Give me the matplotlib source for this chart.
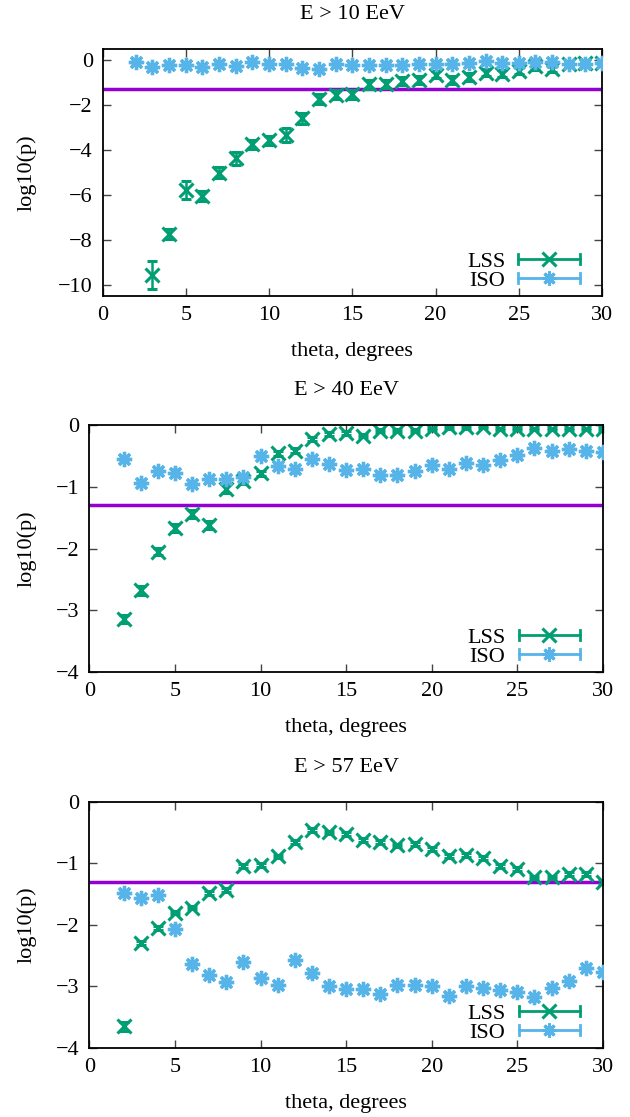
import numpy as np
import matplotlib
matplotlib.use("Agg")
import matplotlib.pyplot as plt
from matplotlib.lines import Line2D
from matplotlib.legend_handler import HandlerBase

plt.rcParams['font.family'] = ['Liberation Serif', 'DejaVu Serif']
plt.rcParams['font.size'] = 16

# data (log10 of p-values vs theta)
theta = list(range(2, 31))

titles = ["E > 10 EeV", "E > 40 EeV", "E > 57 EeV"]

# E > 10 EeV  (LSS has no point at theta=2)
lss10_theta = list(range(3, 31))
lss10 = [-9.56, -7.73, -5.78, -6.03, -5.00, -4.37, -3.75, -3.56, -3.33, -2.59,
         -1.73, -1.53, -1.52, -1.07, -1.04, -0.93, -0.89, -0.64, -0.86, -0.74,
         -0.55, -0.59, -0.47, -0.27, -0.37, -0.17, -0.14, -0.12]
lss10_err = [0.62, 0.22, 0.42, 0.22, 0.25, 0.28, 0.2, 0.2, 0.32, 0.25,
             0.22, 0.2, 0.2, 0.2, 0.18, 0.18, 0.18, 0.15, 0.18, 0.18,
             0.15, 0.15, 0.15, 0.15, 0.15, 0.1, 0.1, 0.1]
iso10 = [-0.07, -0.30, -0.22, -0.22, -0.30, -0.18, -0.25, -0.07, -0.15, -0.18,
         -0.33, -0.37, -0.15, -0.23, -0.22, -0.19, -0.22, -0.15, -0.18, -0.18,
         -0.12, -0.03, -0.12, -0.12, -0.07, -0.07, -0.15, -0.15, -0.12]
iso10_err = [0.12] * 29

# E > 40 EeV
lss40 = [-3.14, -2.68, -2.05, -1.67, -1.44, -1.62, -1.03, -0.90, -0.78, -0.46,
         -0.42, -0.23, -0.15, -0.13, -0.17, -0.09, -0.09, -0.09, -0.065, -0.04,
         -0.04, -0.03, -0.065, -0.065, -0.065, -0.065, -0.065, -0.065, -0.07]
lss40_err = [0.07, 0.07, 0.06, 0.07, 0.07, 0.07, 0.07, 0.05, 0.04, 0.04,
             0.04, 0.03, 0.03, 0.03, 0.03, 0.02, 0.02, 0.02, 0.02, 0.02,
             0.02, 0.02, 0.02, 0.02, 0.02, 0.02, 0.02, 0.02, 0.02]
iso40 = [-0.55, -0.94, -0.75, -0.77, -0.95, -0.87, -0.87, -0.84, -0.50, -0.66,
         -0.72, -0.55, -0.63, -0.73, -0.72, -0.81, -0.81, -0.75, -0.64, -0.71,
         -0.61, -0.64, -0.57, -0.48, -0.38, -0.42, -0.39, -0.42, -0.43]
iso40_err = [0.05] * 29

# E > 57 EeV
lss57 = [-3.65, -2.29, -2.05, -1.80, -1.72, -1.48, -1.43, -1.04, -1.03, -0.89,
         -0.65, -0.46, -0.50, -0.52, -0.62, -0.66, -0.71, -0.69, -0.77, -0.88,
         -0.87, -0.91, -1.04, -1.09, -1.23, -1.23, -1.18, -1.18, -1.30]
lss57_err = [0.07, 0.03, 0.03, 0.03, 0.03, 0.03, 0.03, 0.03, 0.03, 0.03,
             0.03, 0.03, 0.03, 0.03, 0.03, 0.03, 0.03, 0.03, 0.03, 0.03,
             0.03, 0.03, 0.03, 0.03, 0.03, 0.03, 0.03, 0.03, 0.03]
iso57 = [-1.49, -1.56, -1.51, -2.06, -2.63, -2.81, -2.93, -2.61, -2.87, -2.98,
         -2.57, -2.79, -3.00, -3.04, -3.04, -3.13, -2.98, -2.97, -2.99, -3.15,
         -2.99, -3.02, -3.06, -3.09, -3.18, -3.03, -2.92, -2.70, -2.77]
iso57_err = [0.05] * 29

threshold = np.log10(0.05)

green = '#009e73'
blue = '#56b4e9'
purple = '#9400d3'


class GnuplotErrHandler(HandlerBase):
    # legend sample like gnuplot: horizontal bar with end caps and marker in the middle
    def __init__(self, color, marker):
        super().__init__()
        self.color = color
        self.marker = marker

    def create_artists(self, legend, orig_handle, xdescent, ydescent, width, height, fontsize, trans):
        y = height / 2 - ydescent
        x0, x1 = -xdescent, width - xdescent
        h = 3.5
        arts = [Line2D([x0, x1], [y, y], color=self.color, lw=2),
                Line2D([x0, x0], [y - h, y + h], color=self.color, lw=2),
                Line2D([x1, x1], [y - h, y + h], color=self.color, lw=2),
                Line2D([(x0 + x1) / 2], [y], color=self.color, marker=self.marker,
                       ms=10, mew=2.2, ls='none')]
        for a in arts:
            a.set_transform(trans)
        return arts


def panel(ax, title, lx, ly, lerr, iy, ierr, ylim, yticks, ylab_x):
    ax.axhline(threshold, color=purple, lw=2.5, zorder=1)
    ax.errorbar(lx, ly, yerr=lerr, fmt='x', color=green, ms=10, mew=2.2,
                elinewidth=1.8, capsize=3.5, capthick=1.8, zorder=2)
    ax.errorbar(theta, iy, yerr=ierr, fmt='none', color=blue,
                elinewidth=1.8, capsize=3.5, capthick=1.8, zorder=3)
    ax.plot(theta, iy, ls='none', marker=(8, 2, 0), color=blue, ms=11, mew=2.4, zorder=3)

    ax.set_xlim(0, 30)
    ax.set_ylim(*ylim)
    ax.set_xticks(np.arange(0, 31, 5))
    ax.set_yticks(yticks)
    ax.tick_params(direction='in', length=6, width=1, color='#444444',
                   top=True, right=True, pad=7, labelsize=16)
    for s in ax.spines.values():
        s.set_linewidth(1.3)

    ax.set_xlabel("theta, degrees", fontsize=16)
    ax.set_ylabel("log10(p)", fontsize=16)
    ax.xaxis.set_label_coords(0.5, -0.225)
    ax.xaxis.label.set_va('center')
    ax.yaxis.set_label_coords(ylab_x, 0.5)
    ax.yaxis.label.set_va('center')
    ax.text(0.5, 1.138, title, transform=ax.transAxes, ha='center', va='center', fontsize=16)

    h1 = Line2D([], [], color=green)
    h2 = Line2D([], [], color=blue)
    ax.legend([h1, h2], ["LSS", "ISO"], loc='lower right', bbox_to_anchor=(0.955, 0.02),
              frameon=False, markerfirst=False, handlelength=2.75, handletextpad=0.6,
              labelspacing=-0.05, borderpad=0, borderaxespad=0, fontsize=16,
              handler_map={h1: GnuplotErrHandler(green, 'x'),
                           h2: GnuplotErrHandler(blue, (8, 2, 0))})


fig = plt.figure(figsize=(6.3, 11.17), dpi=100)
ax1 = fig.add_axes([0.1627, 0.735, 0.793, 0.2211])
ax2 = fig.add_axes([0.1417, 0.3984, 0.8154, 0.2211])
ax3 = fig.add_axes([0.1417, 0.0618, 0.8154, 0.2205])

panel(ax1, titles[0], lss10_theta, lss10, lss10_err, iso10, iso10_err,
      (-10.5, 0.5), np.arange(-10, 1, 2), -0.151)
panel(ax2, titles[1], theta, lss40, lss40_err, iso40, iso40_err,
      (-4, 0), np.arange(-4, 1, 1), -0.121)
panel(ax3, titles[2], theta, lss57, lss57_err, iso57, iso57_err,
      (-4, 0), np.arange(-4, 1, 1), -0.121)

fig.savefig("out.png", dpi=100)
